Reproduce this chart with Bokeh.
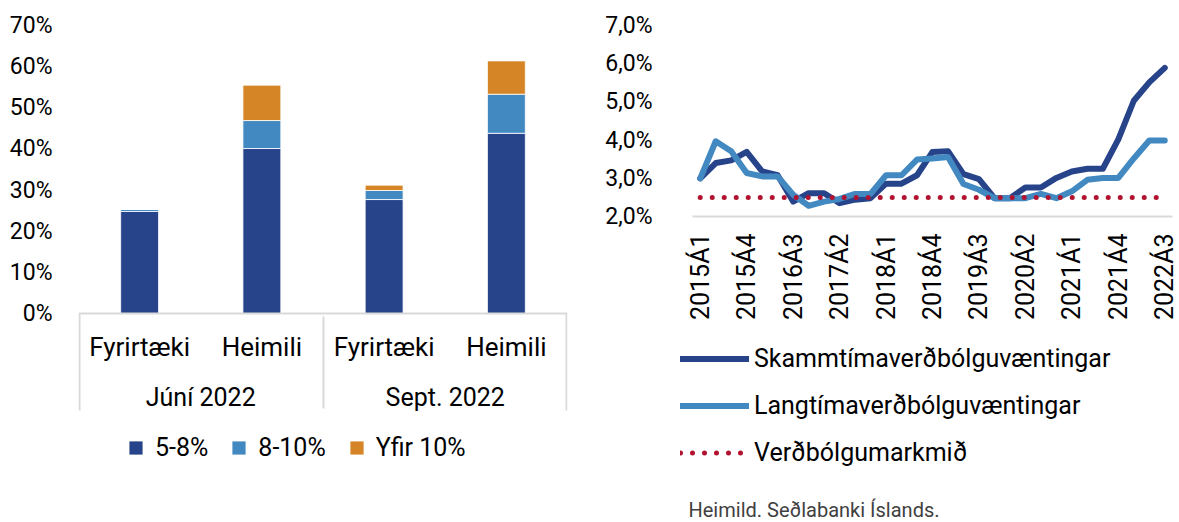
from bokeh.plotting import figure
from bokeh.layouts import row
from bokeh.models import (ColumnDataSource, FactorRange, Range1d, FixedTicker,
                          PrintfTickFormatter, CustomJSTickFormatter, Legend,
                          LegendItem, Label, Arrow)
from bokeh.embed import file_html
from bokeh.resources import INLINE
from math import pi

FONT = "Roboto"

# ---------------- data: left panel ----------------
months = ["Júní 2022", "Sept. 2022"]
sectors = ["Fyrirtæki", "Heimili"]
band_names = ["5-8%", "8-10%", "Yfir 10%"]
band_5_8 = [24.8, 40.1, 27.7, 43.8]
band_8_10 = [0.5, 6.8, 2.2, 9.5]
band_over_10 = [0.0, 8.6, 1.3, 8.1]
left_ticks = [0, 10, 20, 30, 40, 50, 60, 70]

# ---------------- data: right panel ----------------
quarters = ["2015Á1", "2015Á2", "2015Á3", "2015Á4",
            "2016Á1", "2016Á2", "2016Á3", "2016Á4",
            "2017Á1", "2017Á2", "2017Á3", "2017Á4",
            "2018Á1", "2018Á2", "2018Á3", "2018Á4",
            "2019Á1", "2019Á2", "2019Á3", "2019Á4",
            "2020Á1", "2020Á2", "2020Á3", "2020Á4",
            "2021Á1", "2021Á2", "2021Á3", "2021Á4",
            "2022Á1", "2022Á2", "2022Á3"]
short_term = [3.0, 3.4, 3.47, 3.69, 3.18, 3.08, 2.39, 2.61, 2.61, 2.35, 2.44,
              2.48, 2.86, 2.86, 3.08, 3.69, 3.71, 3.11, 2.98, 2.48, 2.48, 2.76,
              2.76, 3.01, 3.18, 3.25, 3.25, 4.02, 5.03, 5.51, 5.89]
long_term = [3.0, 3.97, 3.71, 3.14, 3.05, 3.05, 2.57, 2.28, 2.39, 2.46, 2.59,
             2.59, 3.08, 3.08, 3.49, 3.52, 3.56, 2.85, 2.70, 2.48, 2.48, 2.48,
             2.59, 2.48, 2.66, 2.96, 3.01, 3.01, 3.52, 3.99, 3.99]
target = [2.5, 2.5, 2.5, 2.5, 2.5, 2.5, 2.5, 2.5, 2.5, 2.5, 2.5,
          2.5, 2.5, 2.5, 2.5, 2.5, 2.5, 2.5, 2.5, 2.5, 2.5, 2.5,
          2.5, 2.5, 2.5, 2.5, 2.5, 2.5, 2.5, 2.5, 2.5]
series_names = ["Skammtímaverðbólguvæntingar", "Langtímaverðbólguvæntingar",
                "Verðbólgumarkmið"]
right_ticks = [2, 3, 4, 5, 6, 7]
label_step = 3
source_note = "Heimild. Seðlabanki Íslands."

# ---------------- styles / layout (pixels) ----------------
DARK = "#27448A"
LIGHT = "#4389C1"
ORANGE = "#D58525"
RED = "#B1122F"
GRAY = "#D9D9D9"

H = 522
TOP_TICK_PX = 25         # pixel row of the top tick in both panels
L_W, R_W = 580, 599      # figure widths
L_ZERO_PX = 313          # pixel row of 0 % in the left panel
R_AXIS_PX = 216          # pixel row of 2,0 % in the right panel
R_X0, R_X1 = 692, 1172   # right category axis extent (page px)


def style_common(p):
    p.outline_line_color = None
    p.xgrid.visible = False
    p.ygrid.visible = False
    p.background_fill_color = None
    p.border_fill_color = None


def style_axis(ax, size, standoff):
    ax.major_tick_line_color = None
    ax.minor_tick_line_color = None
    ax.major_tick_out = 0
    ax.major_tick_in = 0
    ax.major_label_standoff = standoff
    ax.major_label_text_font = FONT
    ax.major_label_text_font_size = size
    ax.major_label_text_color = "black"


# ================= left figure =================
factors = [(m, s) for m in months for s in sectors]
src = ColumnDataSource(dict(x=factors, b1=band_5_8, b2=band_8_10, b3=band_over_10))

ymax_l = left_ticks[-1]
ppu_l = (L_ZERO_PX - TOP_TICK_PX) / ymax_l
p1 = figure(x_range=FactorRange(*factors, range_padding=0, group_padding=0,
                                factor_padding=0),
            y_range=Range1d(-(H - L_ZERO_PX) / ppu_l, ymax_l + TOP_TICK_PX / ppu_l),
            width=L_W, height=H, output_backend="svg", toolbar_location=None,
            min_border_left=78, min_border_right=13, min_border_top=0,
            min_border_bottom=0)
style_common(p1)

cols = ["b1", "b2", "b3"]
colors = [DARK, LIGHT, ORANGE]
p1.vbar_stack(cols, x="x", width=0.31, source=src, fill_color=colors,
              line_color="white", line_width=0.8)

ya = p1.yaxis[0]
ya.ticker = FixedTicker(ticks=left_ticks)
ya.formatter = PrintfTickFormatter(format="%d%%")
ya.axis_line_color = None
style_axis(ya, "23px", 26)

xa = p1.xaxis[0]
xa.fixed_location = 0
xa.axis_line_color = GRAY
xa.axis_line_width = 2
style_axis(xa, "26px", 18)
xa.group_text_font = FONT
xa.group_text_font_size = "25px"
xa.group_text_color = "black"
xa.group_text_font_style = "normal"
xa.separator_line_color = GRAY
xa.separator_line_width = 2

# outer separator lines at both ends of the category axis
for sx in (1, 488):
    p1.add_layout(Arrow(end=None, x_start=sx, y_start=H - L_ZERO_PX,
                        x_end=sx, y_end=H - 410,
                        start_units="screen", end_units="screen",
                        line_color=GRAY, line_width=2))

# legend glyphs (hidden square markers sharing the bar data)
items = []
for col, name, color in zip(cols, band_names, colors):
    sc = p1.scatter(x="x", y=col, source=src, marker="square", size=13,
                    fill_color=color, line_color=None, visible=False)
    items.append(LegendItem(label=name, renderers=[sc]))
lg1 = Legend(items=items, location=(119 - 78, H - 464), orientation="horizontal",
             glyph_width=33, glyph_height=33, label_standoff=3, spacing=14,
             padding=0, margin=0,
             border_line_color=None, background_fill_alpha=0,
             label_text_font=FONT, label_text_font_size="25px",
             label_text_color="black")
p1.add_layout(lg1, "center")

# ================= right figure =================
xs = list(range(len(quarters)))
rsrc = ColumnDataSource(dict(x=xs, short=short_term, long=long_term, target=target))

x_lo, x_hi = xs[0] - 0.5, xs[-1] + 0.5
ppu_x = (R_X1 - R_X0) / (x_hi - x_lo)
ybase, ymax_r = right_ticks[0], right_ticks[-1]
ppu_y = (R_AXIS_PX - TOP_TICK_PX) / (ymax_r - ybase)
p2 = figure(x_range=Range1d(x_lo - (R_X0 - L_W) / ppu_x,
                            x_hi + (L_W + R_W - R_X1) / ppu_x),
            y_range=Range1d(ybase - (H - R_AXIS_PX) / ppu_y,
                            ymax_r + TOP_TICK_PX / ppu_y),
            width=R_W, height=H, output_backend="svg", toolbar_location=None,
            min_border_left=0, min_border_right=0, min_border_top=0,
            min_border_bottom=0)
style_common(p2)

r_short = p2.line("x", "short", source=rsrc, line_color=DARK, line_width=6,
                  line_cap="round", line_join="round")
r_long = p2.line("x", "long", source=rsrc, line_color=LIGHT, line_width=6,
                 line_cap="round", line_join="round")
r_target = p2.line("x", "target", source=rsrc, line_color=RED, line_width=5,
                   line_dash="0 12", line_cap="round")

ya2 = p2.yaxis[0]
ya2.fixed_location = x_lo
ya2.ticker = FixedTicker(ticks=right_ticks)
ya2.formatter = CustomJSTickFormatter(
    code="return tick.toFixed(1).replace('.', ',') + '%';")
ya2.axis_line_color = None
style_axis(ya2, "23px", 40)

xa2 = p2.xaxis[0]
shown = xs[::label_step]
xa2.fixed_location = ybase
xa2.bounds = (x_lo, x_hi)
xa2.ticker = FixedTicker(ticks=shown)
xa2.major_label_overrides = {i: quarters[i] for i in shown}
xa2.major_label_orientation = pi / 2
xa2.axis_line_color = GRAY
xa2.axis_line_width = 2
style_axis(xa2, "25px", 17)

leg2 = Legend(items=[LegendItem(label=series_names[0], renderers=[r_short]),
                     LegendItem(label=series_names[1], renderers=[r_long]),
                     LegendItem(label=series_names[2], renderers=[r_target])],
              location=(680 - L_W, H - 475.5), orientation="vertical",
              glyph_width=69, glyph_height=47, label_standoff=5,
              padding=0, margin=0, spacing=0,
              border_line_color=None, background_fill_alpha=0,
              label_text_font=FONT, label_text_font_size="25px",
              label_text_color="black")
p2.add_layout(leg2, "center")

p2.add_layout(Label(x=688 - L_W, y=1, x_units="screen", y_units="screen",
                    text=source_note, text_font=FONT, text_font_size="20px",
                    text_color="#404040", text_baseline="bottom"))

layout = row(p1, p2)
open("out.html", "w").write(file_html(layout, INLINE))
